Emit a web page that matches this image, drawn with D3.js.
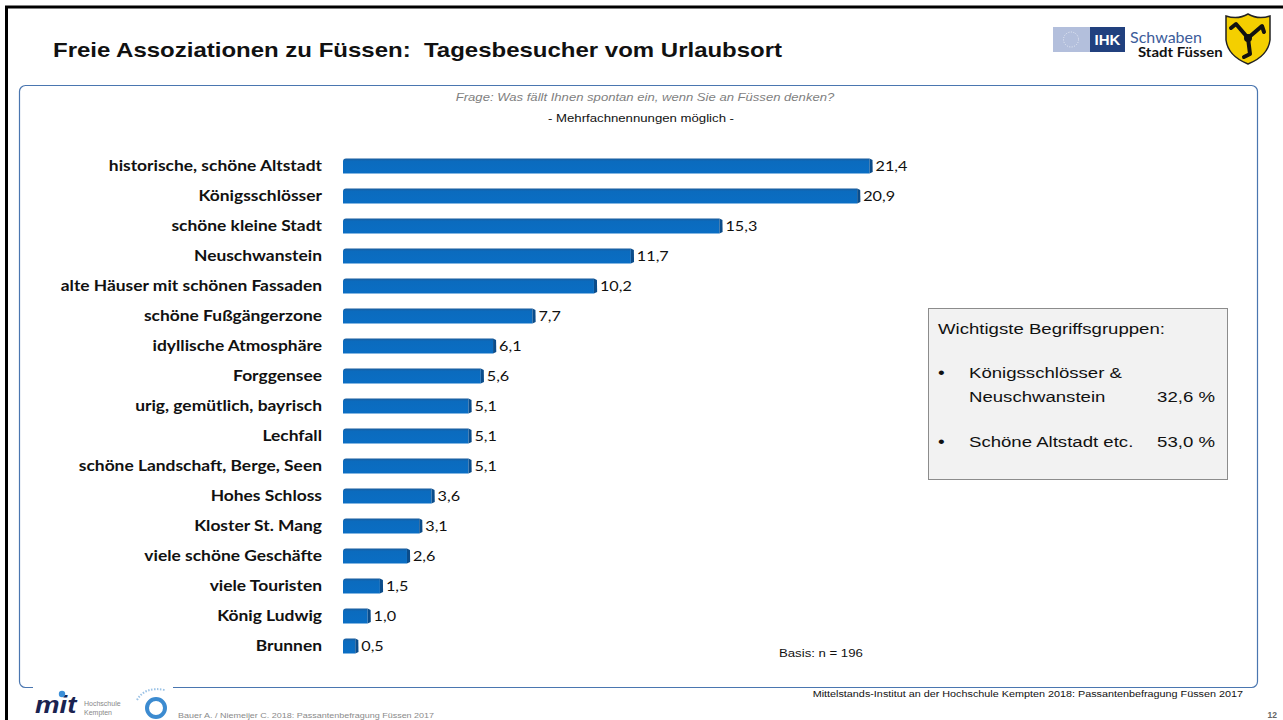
<!DOCTYPE html>
<html><head><meta charset="utf-8">
<script src="https://cdn.jsdelivr.net/npm/d3@7"></script>
<style>html,body{margin:0;padding:0;background:#fff;}svg{display:block;}text{white-space:pre;}</style>
</head><body>
<svg id="chart" width="1283" height="720"></svg>
<script>
const categories = ["historische, schöne Altstadt","Königsschlösser","schöne kleine Stadt","Neuschwanstein","alte Häuser mit schönen Fassaden","schöne Fußgängerzone","idyllische Atmosphäre","Forggensee","urig, gemütlich, bayrisch","Lechfall","schöne Landschaft, Berge, Seen","Hohes Schloss","Kloster St. Mang","viele schöne Geschäfte","viele Touristen","König Ludwig","Brunnen"];
const values = [21.4,20.9,15.3,11.7,10.2,7.7,6.1,5.6,5.1,5.1,5.1,3.6,3.1,2.6,1.5,1.0,0.5];
const groupLabels = ["Königsschlösser &|Neuschwanstein","Schöne Altstadt etc."];
const groupValues = [32.6, 53.0];

const svg = d3.select("#chart");
const fmt = v => d3.format(".1f")(v).replace(".", ",");
const AF = "Liberation Sans, Arial, sans-serif";
const CF = "Lato, Calibri, sans-serif";
const SX = 1.2; // horizontal stretch of the slide's text

function addText(parent, x, y, str, o = {}) {
  const g = parent.append("g").attr("transform", `translate(${x},${y}) scale(${o.sx || SX},1)`);
  return g.append("text").attr("x", 0).attr("y", 0)
    .attr("text-anchor", o.anchor || "start")
    .attr("font-family", o.family || AF)
    .attr("font-size", o.size || 11)
    .attr("font-weight", o.weight || "normal")
    .attr("font-style", o.style || "normal")
    .attr("fill", o.fill || "#111")
    .text(str);
}

// defs
const defs = svg.append("defs");
const g1 = defs.append("linearGradient").attr("id","barGrad").attr("x1",0).attr("y1",0).attr("x2",0).attr("y2",1);
g1.append("stop").attr("offset","0%").attr("stop-color","#1B5C9C");
g1.append("stop").attr("offset","18%").attr("stop-color","#0B6BBE");
g1.append("stop").attr("offset","100%").attr("stop-color","#0A6EC4");

// outer frame (top + left black lines)
svg.append("line").attr("x1",5).attr("x2",1283).attr("y1",7).attr("y2",7).attr("stroke","#000").attr("stroke-width",3);
svg.append("line").attr("x1",6.5).attr("x2",6.5).attr("y1",6).attr("y2",720).attr("stroke","#000").attr("stroke-width",3);

// title
addText(svg, 53, 57, "Freie Assoziationen zu Füssen:  Tagesbesucher vom Urlaubsort", {size:20, weight:"bold"});

// inner rounded box
svg.append("rect").attr("x",19.5).attr("y",85.5).attr("width",1238).attr("height",602).attr("rx",6)
  .attr("fill","none").attr("stroke","#4A76B0").attr("stroke-width",1.2);
svg.append("rect").attr("x",33).attr("y",683).attr("width",140).attr("height",10).attr("fill","#fff");

// subtitles
addText(svg, 645, 101, "Frage: Was fällt Ihnen spontan ein, wenn Sie an Füssen denken?", {anchor:"middle", size:11, style:"italic", fill:"#7F7F7F", sx:1.19});
addText(svg, 641, 122, "- Mehrfachnennungen möglich -", {anchor:"middle", size:11});

// scales
const x = d3.scaleLinear().domain([0, 21.4]).range([343, 869.5]);
const y = d3.scaleBand().domain(categories).range([151, 661]).paddingInner(0.5).paddingOuter(0.25);
const bh = 15;
const yc = d => y(d) + y.bandwidth()/2;

// category axis
const ax = svg.append("g").attr("transform","translate(343,0)")
  .call(d3.axisLeft(y).tickSize(0).tickPadding(0));
ax.select(".domain").remove();
ax.selectAll(".tick").each(function(){
  const t = d3.select(this);
  t.select("text").attr("x", 0).attr("transform", `translate(-21,0) scale(${SX},1)`)
    .attr("font-family", CF).attr("font-size", 14.5).attr("font-weight","bold").attr("fill","#111");
});

// bars
const bars = svg.append("g").selectAll("g").data(categories).join("g");
bars.append("path").attr("fill","url(#barGrad)")
  .attr("d",(c,i)=>{
    const x0 = x(0), xe = x(values[i]), yt = yc(c)-bh/2, yb = yc(c)+bh/2, r=3;
    return `M${x0},${yb} L${x0},${yt+r} Q${x0},${yt} ${x0+r},${yt} L${xe},${yt} L${xe},${yb} Z`;
  });
bars.append("path").attr("fill","#0B4C8A")
  .attr("d",(c,i)=>{
    const xe = x(values[i]), yt = yc(c)-bh/2, yb = yc(c)+bh/2;
    return `M${xe},${yt} L${xe+3},${yt+1.5} L${xe+3.2},${yb-1.5} L${xe},${yb} Z`;
  });
bars.each(function(c,i){
  addText(d3.select(this), x(values[i])+6, yc(c)+5, fmt(values[i]), {family:CF, size:13.5});
});

// annotation box
const bx = svg.append("g");
bx.append("rect").attr("x",928.5).attr("y",308.5).attr("width",299).attr("height",171)
  .attr("fill","#F2F2F2").attr("stroke","#8C8C8C").attr("stroke-width",1);
addText(bx, 938, 334, "Wichtigste Begriffsgruppen:", {size:15.5});
const gy = [378, 447];
groupLabels.forEach((lab,i)=>{
  const lines = lab.split("|");
  addText(bx, 938, gy[i], "•", {size:16});
  lines.forEach((l,j)=> addText(bx, 969, gy[i]+j*24, l, {size:15.5}));
  addText(bx, 1215, gy[i]+(lines.length-1)*24, fmt(groupValues[i])+" %", {anchor:"end", size:15.5});
});

// basis, sources
addText(svg, 779, 657, "Basis: n = 196", {size:11});
addText(svg, 1243, 697, "Mittelstands-Institut an der Hochschule Kempten 2018: Passantenbefragung Füssen 2017", {anchor:"end", size:9});
addText(svg, 178, 718, "Bauer A. / Niemeijer C. 2018: Passantenbefragung Füssen 2017", {size:7.5, fill:"#8A8A8A"});
addText(svg, 1277, 718, "12", {anchor:"end", size:8.5, weight:"bold", fill:"#666", sx:1});

// mit logo
const ml = svg.append("g");
addText(ml, 35, 713, "mit", {size:24, weight:"bold", style:"italic", fill:"#1A2350", sx:1.15});
ml.append("circle").attr("cx",62).attr("cy",694).attr("r",3.2).attr("fill","#3B8FD8");
addText(ml, 84, 706, "Hochschule", {size:7, fill:"#888", sx:1});
addText(ml, 84, 715, "Kempten", {size:7, fill:"#888", sx:1});
ml.append("circle").attr("cx",156).attr("cy",708).attr("r",9).attr("fill","none").attr("stroke","#3C8BD0").attr("stroke-width",4);
ml.append("circle").attr("cx",158).attr("cy",709).attr("r",3.5).attr("fill","#fff");
ml.append("path").attr("d","M137,700 Q145,686 165,690").attr("fill","none").attr("stroke","#9CC3E6").attr("stroke-width",2).attr("stroke-dasharray","1.5,1.5");

// IHK logo
const ih = svg.append("g");
ih.append("rect").attr("x",1053).attr("y",27).attr("width",37).attr("height",25).attr("fill","#B3BFDC");
ih.append("circle").attr("cx",1071).attr("cy",39.5).attr("r",7.5).attr("fill","none").attr("stroke","#E8ECF6").attr("stroke-width",1).attr("stroke-dasharray","1,1.5");
ih.append("rect").attr("x",1090).attr("y",27).attr("width",35).attr("height",25).attr("fill","#21407E");
addText(ih, 1107.5, 45, "IHK", {anchor:"middle", size:15, weight:"bold", fill:"#fff", sx:1});
addText(ih, 1130, 43, "Schwaben", {family:CF, size:16, fill:"#3C5C9A", sx:1});
addText(ih, 1138, 57, "Stadt Füssen", {family:CF, size:13, weight:"bold", sx:1.15});

// shield
const sh = svg.append("g");
sh.append("path").attr("d","M1226,16 Q1238,20 1248,14 Q1258,20 1270,16 L1270,40 Q1268,56 1248,64 Q1228,56 1226,40 Z")
  .attr("fill","#F4CF00").attr("stroke","#222").attr("stroke-width",1.5);
sh.append("path").attr("d","M1248,38 L1236,24 L1231,28 M1248,38 L1262,26 L1264,32 M1248,38 L1250,54 L1244,57")
  .attr("fill","none").attr("stroke","#111").attr("stroke-width",4).attr("stroke-linejoin","round").attr("stroke-linecap","round");
sh.append("circle").attr("cx",1248).attr("cy",38).attr("r",4).attr("fill","#111");
</script>
</body></html>
